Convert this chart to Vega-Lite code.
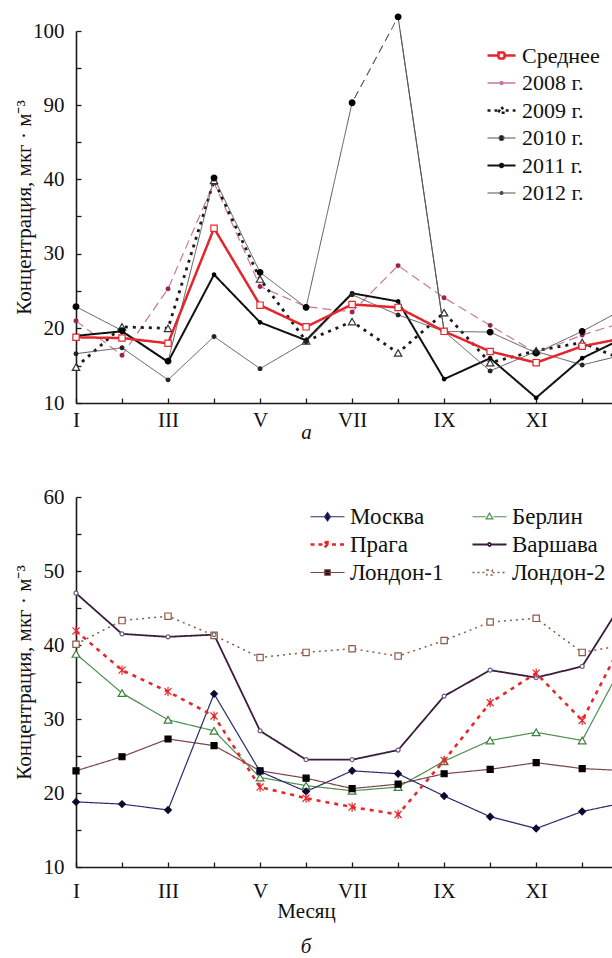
{
  "$schema": "https://vega.github.io/schema/vega-lite/v6.json",
  "autosize": {"type": "pad"},
  "padding": {"left": 13, "top": 11, "right": 0, "bottom": 0},
  "background": "white",
  "datasets": {
    "top": [
      {"series": "2008 г.", "month": 1, "value": 21.0}, {"series": "2008 г.", "month": 2, "value": 16.4}, {"series": "2008 г.", "month": 3, "value": 25.3}, {"series": "2008 г.", "month": 4, "value": 39.5}, {"series": "2008 г.", "month": 5, "value": 25.6}, {"series": "2008 г.", "month": 6, "value": 22.9}, {"series": "2008 г.", "month": 7, "value": 22.2}, {"series": "2008 г.", "month": 8, "value": 28.4}, {"series": "2008 г.", "month": 9, "value": 24.1}, {"series": "2008 г.", "month": 10, "value": 20.4}, {"series": "2008 г.", "month": 11, "value": 16.7}, {"series": "2008 г.", "month": 12, "value": 19.1}, {"series": "2008 г.", "month": 13, "value": 21.0},
      {"series": "2009 г.", "month": 1, "value": 14.8}, {"series": "2009 г.", "month": 2, "value": 20.2}, {"series": "2009 г.", "month": 3, "value": 20.0}, {"series": "2009 г.", "month": 4, "value": 39.8}, {"series": "2009 г.", "month": 5, "value": 26.6}, {"series": "2009 г.", "month": 6, "value": 18.3}, {"series": "2009 г.", "month": 7, "value": 20.9}, {"series": "2009 г.", "month": 8, "value": 16.7}, {"series": "2009 г.", "month": 9, "value": 22.1}, {"series": "2009 г.", "month": 10, "value": 15.4}, {"series": "2009 г.", "month": 11, "value": 17.0}, {"series": "2009 г.", "month": 12, "value": 18.1}, {"series": "2009 г.", "month": 13, "value": 15.5},
      {"series": "2010 г.", "month": 1, "value": 22.9}, {"series": "2010 г.", "month": 2, "value": 19.7}, {"series": "2010 г.", "month": 3, "value": 15.6}, {"series": "2010 г.", "month": 4, "value": 40.7}, {"series": "2010 г.", "month": 5, "value": 27.5}, {"series": "2010 г.", "month": 6, "value": 22.8}, {"series": "2010 г.", "month": 7, "value": 90.3}, {"series": "2010 г.", "month": 8, "value": 101.9}, {"series": "2010 г.", "month": 9, "value": 19.6}, {"series": "2010 г.", "month": 10, "value": 19.5}, {"series": "2010 г.", "month": 11, "value": 16.7}, {"series": "2010 г.", "month": 12, "value": 19.6}, {"series": "2010 г.", "month": 13, "value": 22.9},
      {"series": "2011 г.", "month": 1, "value": 19.0}, {"series": "2011 г.", "month": 2, "value": 19.6}, {"series": "2011 г.", "month": 3, "value": 15.5}, {"series": "2011 г.", "month": 4, "value": 27.2}, {"series": "2011 г.", "month": 5, "value": 20.8}, {"series": "2011 г.", "month": 6, "value": 18.4}, {"series": "2011 г.", "month": 7, "value": 24.7}, {"series": "2011 г.", "month": 8, "value": 23.6}, {"series": "2011 г.", "month": 9, "value": 13.2}, {"series": "2011 г.", "month": 10, "value": 16.0}, {"series": "2011 г.", "month": 11, "value": 10.7}, {"series": "2011 г.", "month": 12, "value": 16.0}, {"series": "2011 г.", "month": 13, "value": 19.0},
      {"series": "2012 г.", "month": 1, "value": 16.6}, {"series": "2012 г.", "month": 2, "value": 17.4}, {"series": "2012 г.", "month": 3, "value": 13.1}, {"series": "2012 г.", "month": 4, "value": 18.9}, {"series": "2012 г.", "month": 5, "value": 14.6}, {"series": "2012 г.", "month": 6, "value": 18.2}, {"series": "2012 г.", "month": 7, "value": 24.5}, {"series": "2012 г.", "month": 8, "value": 21.8}, {"series": "2012 г.", "month": 9, "value": 19.6}, {"series": "2012 г.", "month": 10, "value": 14.3}, {"series": "2012 г.", "month": 11, "value": 16.9}, {"series": "2012 г.", "month": 12, "value": 15.1}, {"series": "2012 г.", "month": 13, "value": 16.6},
      {"series": "Среднее", "month": 1, "value": 18.8}, {"series": "Среднее", "month": 2, "value": 18.7}, {"series": "Среднее", "month": 3, "value": 18.0}, {"series": "Среднее", "month": 4, "value": 33.4}, {"series": "Среднее", "month": 5, "value": 23.1}, {"series": "Среднее", "month": 6, "value": 20.2}, {"series": "Среднее", "month": 7, "value": 23.2}, {"series": "Среднее", "month": 8, "value": 22.8}, {"series": "Среднее", "month": 9, "value": 19.6}, {"series": "Среднее", "month": 10, "value": 16.9}, {"series": "Среднее", "month": 11, "value": 15.4}, {"series": "Среднее", "month": 12, "value": 17.6}, {"series": "Среднее", "month": 13, "value": 18.8}
    ],
    "bottom": [
      {"series": "Лондон-2", "month": 1, "value": 40.1}, {"series": "Лондон-2", "month": 2, "value": 43.3}, {"series": "Лондон-2", "month": 3, "value": 43.9}, {"series": "Лондон-2", "month": 4, "value": 41.3}, {"series": "Лондон-2", "month": 5, "value": 38.3}, {"series": "Лондон-2", "month": 6, "value": 39.0}, {"series": "Лондон-2", "month": 7, "value": 39.5}, {"series": "Лондон-2", "month": 8, "value": 38.5}, {"series": "Лондон-2", "month": 9, "value": 40.6}, {"series": "Лондон-2", "month": 10, "value": 43.1}, {"series": "Лондон-2", "month": 11, "value": 43.6}, {"series": "Лондон-2", "month": 12, "value": 39.0}, {"series": "Лондон-2", "month": 13, "value": 40.1},
      {"series": "Варшава", "month": 1, "value": 47.0}, {"series": "Варшава", "month": 2, "value": 41.5}, {"series": "Варшава", "month": 3, "value": 41.1}, {"series": "Варшава", "month": 4, "value": 41.4}, {"series": "Варшава", "month": 5, "value": 28.4}, {"series": "Варшава", "month": 6, "value": 24.5}, {"series": "Варшава", "month": 7, "value": 24.5}, {"series": "Варшава", "month": 8, "value": 25.8}, {"series": "Варшава", "month": 9, "value": 33.1}, {"series": "Варшава", "month": 10, "value": 36.6}, {"series": "Варшава", "month": 11, "value": 35.6}, {"series": "Варшава", "month": 12, "value": 37.1}, {"series": "Варшава", "month": 13, "value": 47.0},
      {"series": "Берлин", "month": 1, "value": 38.8}, {"series": "Берлин", "month": 2, "value": 33.5}, {"series": "Берлин", "month": 3, "value": 29.9}, {"series": "Берлин", "month": 4, "value": 28.4}, {"series": "Берлин", "month": 5, "value": 22.1}, {"series": "Берлин", "month": 6, "value": 21.0}, {"series": "Берлин", "month": 7, "value": 20.3}, {"series": "Берлин", "month": 8, "value": 20.8}, {"series": "Берлин", "month": 9, "value": 24.3}, {"series": "Берлин", "month": 10, "value": 27.1}, {"series": "Берлин", "month": 11, "value": 28.2}, {"series": "Берлин", "month": 12, "value": 27.1}, {"series": "Берлин", "month": 13, "value": 38.8},
      {"series": "Лондон-1", "month": 1, "value": 23.0}, {"series": "Лондон-1", "month": 2, "value": 24.9}, {"series": "Лондон-1", "month": 3, "value": 27.3}, {"series": "Лондон-1", "month": 4, "value": 26.4}, {"series": "Лондон-1", "month": 5, "value": 23.0}, {"series": "Лондон-1", "month": 6, "value": 22.0}, {"series": "Лондон-1", "month": 7, "value": 20.6}, {"series": "Лондон-1", "month": 8, "value": 21.2}, {"series": "Лондон-1", "month": 9, "value": 22.6}, {"series": "Лондон-1", "month": 10, "value": 23.2}, {"series": "Лондон-1", "month": 11, "value": 24.1}, {"series": "Лондон-1", "month": 12, "value": 23.3}, {"series": "Лондон-1", "month": 13, "value": 23.0},
      {"series": "Москва", "month": 1, "value": 18.8}, {"series": "Москва", "month": 2, "value": 18.5}, {"series": "Москва", "month": 3, "value": 17.7}, {"series": "Москва", "month": 4, "value": 33.4}, {"series": "Москва", "month": 5, "value": 22.9}, {"series": "Москва", "month": 6, "value": 20.2}, {"series": "Москва", "month": 7, "value": 23.0}, {"series": "Москва", "month": 8, "value": 22.6}, {"series": "Москва", "month": 9, "value": 19.6}, {"series": "Москва", "month": 10, "value": 16.8}, {"series": "Москва", "month": 11, "value": 15.2}, {"series": "Москва", "month": 12, "value": 17.5}, {"series": "Москва", "month": 13, "value": 18.8},
      {"series": "Прага", "month": 1, "value": 41.9}, {"series": "Прага", "month": 2, "value": 36.6}, {"series": "Прага", "month": 3, "value": 33.7}, {"series": "Прага", "month": 4, "value": 30.4}, {"series": "Прага", "month": 5, "value": 20.8}, {"series": "Прага", "month": 6, "value": 19.3}, {"series": "Прага", "month": 7, "value": 18.1}, {"series": "Прага", "month": 8, "value": 17.1}, {"series": "Прага", "month": 9, "value": 24.4}, {"series": "Прага", "month": 10, "value": 32.2}, {"series": "Прага", "month": 11, "value": 36.2}, {"series": "Прага", "month": 12, "value": 29.8}, {"series": "Прага", "month": 13, "value": 41.9}
    ]
  },
  "spacing": 94,
  "bounds": "flush",
  "vconcat": [
    {
      "width": 537,
      "height": 372,
      "data": {"name": "top"},
      "encoding": {
        "x": {
          "field": "month", "type": "quantitative",
          "scale": {"domain": [1, 12.67], "nice": false, "zero": false},
          "axis": {
            "values": [1, 2, 3, 4, 5, 6, 7, 8, 9, 10, 11, 12],
            "labelExpr": "datum.value % 2 == 1 ? ['I','II','III','IV','V','VI','VII','VIII','IX','X','XI','XII'][datum.value - 1] : ''",
            "labelFlush": false, "labelOverlap": false, "labelPadding": 11,
            "title": "а", "titleFontStyle": "italic", "titleX": 230, "titleY": 29,
            "titleBaseline": "middle", "titleAlign": "center"
          }
        },
        "y": {
          "field": "value", "type": "quantitative",
          "scale": {"domain": [10, 40, 90, 100], "range": [372, 148, 74, 0], "nice": false, "zero": false},
          "axis": {
            "values": [10, 15, 20, 25, 30, 35, 40, 65, 90, 95, 100],
            "labelExpr": "indexof([10, 20, 30, 40, 90, 100], datum.value) >= 0 ? datum.label : ''",
            "labelOverlap": false, "labelPadding": 17,
            "title": "Концентрация, мкг · м⁻³", "titleX": -52, "titleY": 176, "titleAngle": -90,
            "titleBaseline": "middle", "titleAlign": "center"
          }
        }
      },
      "resolve": {"scale": {"color": "independent", "shape": "independent", "fill": "independent", "stroke": "independent", "size": "independent", "strokeDash": "independent", "strokeWidth": "independent"}},
      "layer": [
        {
          "mark": {"type": "line", "clip": true},
          "encoding": {
            "color": {"field": "series", "type": "nominal", "legend": null,
              "scale": {"domain": ["2008 г.", "2009 г.", "2010 г.", "2011 г.", "2012 г.", "Среднее"], "range": ["#c9789a", "#1a1a1a", "#555555", "#111111", "#555555", "#e3262b"]}},
            "strokeDash": {"field": "series", "type": "nominal", "legend": null,
              "scale": {"domain": ["2008 г.", "2009 г.", "2010 г.", "2011 г.", "2012 г.", "Среднее"], "range": [[9, 5], [3, 5], [1, 0], [1, 0], [1, 0], [1, 0]]}},
            "strokeWidth": {"field": "series", "type": "nominal", "legend": null,
              "scale": {"type": "ordinal", "domain": ["2008 г.", "2009 г.", "2010 г.", "2011 г.", "2012 г.", "Среднее"], "range": [1.2, 2.8, 1, 2, 1, 2.5]}}
          }
        },
        {
          "transform": [{"filter": "datum.series == '2010 г.' && datum.month >= 7 && datum.month <= 9"}],
          "mark": {"type": "line", "color": "#555555", "strokeWidth": 1, "clip": false},
          "encoding": {}
        },
        {
          "transform": [{"filter": "datum.series == '2010 г.' && datum.month >= 7 && datum.month <= 8"}],
          "mark": {"type": "line", "color": "white", "strokeWidth": 2.5, "strokeDash": [5, 8], "clip": false},
          "encoding": {}
        },
        {
          "transform": [{"filter": "datum.month <= 12"}],
          "mark": {"type": "point", "filled": true, "opacity": 1, "strokeWidth": 1.2},
          "encoding": {
            "shape": {"field": "series", "type": "nominal", "legend": null,
              "scale": {"domain": ["2008 г.", "2009 г.", "2010 г.", "2011 г.", "2012 г.", "Среднее"], "range": ["circle", "triangle-up", "circle", "circle", "circle", "square"]}},
            "size": {"field": "series", "type": "nominal", "legend": null,
              "scale": {"type": "ordinal", "domain": ["2008 г.", "2009 г.", "2010 г.", "2011 г.", "2012 г.", "Среднее"], "range": [14, 55, 32, 12, 14, 40]}},
            "fill": {"field": "series", "type": "nominal", "legend": null,
              "scale": {"domain": ["2008 г.", "2009 г.", "2010 г.", "2011 г.", "2012 г.", "Среднее"], "range": ["#9a2050", "#ffffff", "#000000", "#000000", "#222222", "#ffffff"]}},
            "stroke": {"field": "series", "type": "nominal", "legend": null,
              "scale": {"domain": ["2008 г.", "2009 г.", "2010 г.", "2011 г.", "2012 г.", "Среднее"], "range": ["#9a2050", "#333333", "#000000", "#000000", "#222222", "#e3262b"]}}
          }
        },
        {
          "transform": [{"filter": "datum.month == 1"}],
          "mark": {"type": "point", "filled": true, "opacity": 0},
          "encoding": {
            "shape": {"field": "series", "type": "nominal",
              "scale": {"domain": ["Среднее", "2008 г.", "2009 г.", "2010 г.", "2011 г.", "2012 г."],
                "range": ["M-1.4,0H-0.32M0.32,0H1.4M-0.3,-0.3H0.3V0.3H-0.3Z", "M-1.4,0H1.4M-0.15,0A0.15,0.15 0 1,0 0.15,0A0.15,0.15 0 1,0 -0.15,0Z", "M-1.4,0H-0.42M0.42,0H1.4M0,-0.36L0.34,0.22H-0.34Z", "M-1.4,0H1.4M-0.25,0A0.25,0.25 0 1,0 0.25,0A0.25,0.25 0 1,0 -0.25,0Z", "M-1.4,0H1.4M-0.17,0A0.17,0.17 0 1,0 0.17,0A0.17,0.17 0 1,0 -0.17,0Z", "M-1.4,0H1.4M-0.15,0A0.15,0.15 0 1,0 0.15,0A0.15,0.15 0 1,0 -0.15,0Z"]},
              "legend": {"orient": "none", "legendX": 414, "legendY": 13, "title": null, "padding": 0, "symbolSize": 400, "labelOffset": 9, "rowPadding": 5, "symbolOpacity": 1, "labelFont": "Liberation Serif", "labelFontSize": 22, "labelColor": "#111111"}},
            "fill": {"field": "series", "type": "nominal",
              "scale": {"domain": ["Среднее", "2008 г.", "2009 г.", "2010 г.", "2011 г.", "2012 г."], "range": ["#ffffff", "#9a2050", "#ffffff", "#000000", "#000000", "#222222"]},
              "legend": {"orient": "none", "legendX": 414, "legendY": 13, "title": null, "padding": 0, "symbolSize": 400, "labelOffset": 9, "rowPadding": 5, "symbolOpacity": 1, "labelFont": "Liberation Serif", "labelFontSize": 22, "labelColor": "#111111"}},
            "stroke": {"field": "series", "type": "nominal",
              "scale": {"domain": ["Среднее", "2008 г.", "2009 г.", "2010 г.", "2011 г.", "2012 г."], "range": ["#e3262b", "#c9789a", "#1a1a1a", "#555555", "#111111", "#555555"]},
              "legend": {"orient": "none", "legendX": 414, "legendY": 13, "title": null, "padding": 0, "symbolSize": 400, "labelOffset": 9, "rowPadding": 5, "symbolOpacity": 1, "labelFont": "Liberation Serif", "labelFontSize": 22, "labelColor": "#111111"}},
            "strokeDash": {"field": "series", "type": "nominal",
              "scale": {"domain": ["Среднее", "2008 г.", "2009 г.", "2010 г.", "2011 г.", "2012 г."], "range": [[1, 0], [1, 0], [3, 4], [1, 0], [1, 0], [1, 0]]},
              "legend": {"orient": "none", "legendX": 414, "legendY": 13, "title": null, "padding": 0, "symbolSize": 400, "labelOffset": 9, "rowPadding": 5, "symbolOpacity": 1, "labelFont": "Liberation Serif", "labelFontSize": 22, "labelColor": "#111111"}},
            "strokeWidth": {"field": "series", "type": "nominal",
              "scale": {"type": "ordinal", "domain": ["Среднее", "2008 г.", "2009 г.", "2010 г.", "2011 г.", "2012 г."], "range": [2.5, 1.3, 2.5, 1.2, 2.2, 1.2]},
              "legend": {"orient": "none", "legendX": 414, "legendY": 13, "title": null, "padding": 0, "symbolSize": 400, "labelOffset": 9, "rowPadding": 5, "symbolOpacity": 1, "labelFont": "Liberation Serif", "labelFontSize": 22, "labelColor": "#111111"}}
          }
        }
      ]
    },
    {
      "width": 537,
      "height": 370,
      "data": {"name": "bottom"},
      "title": {"text": "б", "orient": "bottom", "anchor": "start", "align": "center", "dx": 230, "offset": 15, "frame": "group",
        "font": "Liberation Serif", "fontSize": 21, "fontStyle": "italic", "fontWeight": "normal", "color": "#111111"},
      "encoding": {
        "x": {
          "field": "month", "type": "quantitative",
          "scale": {"domain": [1, 12.67], "nice": false, "zero": false},
          "axis": {
            "values": [1, 2, 3, 4, 5, 6, 7, 8, 9, 10, 11, 12],
            "labelExpr": "datum.value % 2 == 1 ? ['I','II','III','IV','V','VI','VII','VIII','IX','X','XI','XII'][datum.value - 1] : ''",
            "labelFlush": false, "labelOverlap": false, "labelPadding": 18,
            "title": "Месяц", "titleX": 230, "titleY": 44,
            "titleBaseline": "middle", "titleAlign": "center"
          }
        },
        "y": {
          "field": "value", "type": "quantitative",
          "scale": {"domain": [10, 60], "nice": false, "zero": false},
          "axis": {
            "values": [10, 15, 20, 25, 30, 35, 40, 45, 50, 55, 60],
            "labelExpr": "datum.value % 10 == 0 ? datum.label : ''",
            "labelOverlap": false, "labelPadding": 17,
            "title": "Концентрация, мкг · м⁻³", "titleX": -52, "titleY": 175, "titleAngle": -90,
            "titleBaseline": "middle", "titleAlign": "center"
          }
        }
      },
      "resolve": {"scale": {"color": "independent", "shape": "independent", "fill": "independent", "stroke": "independent", "size": "independent", "strokeDash": "independent", "strokeWidth": "independent"}},
      "layer": [
        {
          "mark": {"type": "line", "clip": true},
          "encoding": {
            "color": {"field": "series", "type": "nominal", "legend": null,
              "scale": {"domain": ["Лондон-2", "Варшава", "Берлин", "Лондон-1", "Москва", "Прага"], "range": ["#8a5a48", "#3a1c3c", "#4f8f4f", "#7a4545", "#2a2a70", "#e8262b"]}},
            "strokeDash": {"field": "series", "type": "nominal", "legend": null,
              "scale": {"domain": ["Лондон-2", "Варшава", "Берлин", "Лондон-1", "Москва", "Прага"], "range": [[2, 4], [1, 0], [1, 0], [1, 0], [1, 0], [4, 5]]}},
            "strokeWidth": {"field": "series", "type": "nominal", "legend": null,
              "scale": {"type": "ordinal", "domain": ["Лондон-2", "Варшава", "Берлин", "Лондон-1", "Москва", "Прага"], "range": [1.5, 1.8, 1.2, 1.2, 1.2, 2.6]}}
          }
        },
        {
          "transform": [{"filter": "datum.month <= 12"}],
          "mark": {"type": "point", "filled": true, "opacity": 1, "strokeWidth": 1.2},
          "encoding": {
            "shape": {"field": "series", "type": "nominal", "legend": null,
              "scale": {"domain": ["Лондон-2", "Варшава", "Берлин", "Лондон-1", "Москва", "Прага"], "range": ["square", "circle", "triangle-up", "square", "diamond", "M-1,-1L1,1M-1,1L1,-1M0,-1.3V1.3"]}},
            "size": {"field": "series", "type": "nominal", "legend": null,
              "scale": {"type": "ordinal", "domain": ["Лондон-2", "Варшава", "Берлин", "Лондон-1", "Москва", "Прага"], "range": [40, 16, 60, 36, 45, 50]}},
            "fill": {"field": "series", "type": "nominal", "legend": null,
              "scale": {"domain": ["Лондон-2", "Варшава", "Берлин", "Лондон-1", "Москва", "Прага"], "range": ["#ffffff", "#ffffff", "#ffffff", "#000000", "#0a0a30", "transparent"]}},
            "stroke": {"field": "series", "type": "nominal", "legend": null,
              "scale": {"domain": ["Лондон-2", "Варшава", "Берлин", "Лондон-1", "Москва", "Прага"], "range": ["#8a5a48", "#6a5a80", "#3f7f3f", "#000000", "#0a0a30", "#e8262b"]}}
          }
        },
        {
          "transform": [{"filter": "datum.month == 1"}],
          "mark": {"type": "point", "filled": true, "opacity": 0},
          "encoding": {
            "shape": {"field": "series", "type": "nominal",
              "scale": {"domain": ["Москва", "Прага", "Лондон-1", "Берлин", "Варшава", "Лондон-2"],
                "range": ["M-1.7,0H1.7M0,-0.42L0.3,0L0,0.42L-0.3,0Z", "M-1.7,0H-0.45M0.45,0H1.7M-0.28,-0.28L0.28,0.28M-0.28,0.28L0.28,-0.28M0,-0.38V0.38", "M-1.7,0H1.7M-0.27,-0.27H0.27V0.27H-0.27Z", "M-1.7,0H-0.4M0.4,0H1.7M0,-0.36L0.34,0.22H-0.34Z", "M-1.7,0H-0.18M0.18,0H1.7M-0.15,0A0.15,0.15 0 1,0 0.15,0A0.15,0.15 0 1,0 -0.15,0Z", "M-1.7,0H-0.3M0.3,0H1.7M-0.26,-0.26H0.26V0.26H-0.26Z"]},
              "legend": {"orient": "none", "legendX": 240, "legendY": 8, "title": null, "padding": 0, "columns": 2, "columnPadding": 24, "symbolSize": 400, "labelOffset": 11, "rowPadding": 4, "symbolOpacity": 1, "labelFont": "Liberation Serif", "labelFontSize": 23, "labelColor": "#111111"}},
            "fill": {"field": "series", "type": "nominal",
              "scale": {"domain": ["Москва", "Прага", "Лондон-1", "Берлин", "Варшава", "Лондон-2"], "range": ["#0a0a30", "transparent", "#000000", "#ffffff", "#ffffff", "#ffffff"]},
              "legend": {"orient": "none", "legendX": 240, "legendY": 8, "title": null, "padding": 0, "columns": 2, "columnPadding": 24, "symbolSize": 400, "labelOffset": 11, "rowPadding": 4, "symbolOpacity": 1, "labelFont": "Liberation Serif", "labelFontSize": 23, "labelColor": "#111111"}},
            "stroke": {"field": "series", "type": "nominal",
              "scale": {"domain": ["Москва", "Прага", "Лондон-1", "Берлин", "Варшава", "Лондон-2"], "range": ["#2a2a70", "#e8262b", "#7a4545", "#4f8f4f", "#3a1c3c", "#8a5a48"]},
              "legend": {"orient": "none", "legendX": 240, "legendY": 8, "title": null, "padding": 0, "columns": 2, "columnPadding": 24, "symbolSize": 400, "labelOffset": 11, "rowPadding": 4, "symbolOpacity": 1, "labelFont": "Liberation Serif", "labelFontSize": 23, "labelColor": "#111111"}},
            "strokeDash": {"field": "series", "type": "nominal",
              "scale": {"domain": ["Москва", "Прага", "Лондон-1", "Берлин", "Варшава", "Лондон-2"], "range": [[1, 0], [4, 4], [1, 0], [1, 0], [1, 0], [2, 3]]},
              "legend": {"orient": "none", "legendX": 240, "legendY": 8, "title": null, "padding": 0, "columns": 2, "columnPadding": 24, "symbolSize": 400, "labelOffset": 11, "rowPadding": 4, "symbolOpacity": 1, "labelFont": "Liberation Serif", "labelFontSize": 23, "labelColor": "#111111"}},
            "strokeWidth": {"field": "series", "type": "nominal",
              "scale": {"type": "ordinal", "domain": ["Москва", "Прага", "Лондон-1", "Берлин", "Варшава", "Лондон-2"], "range": [1.2, 2.5, 1.2, 1.2, 1.8, 1.5]},
              "legend": {"orient": "none", "legendX": 240, "legendY": 8, "title": null, "padding": 0, "columns": 2, "columnPadding": 24, "symbolSize": 400, "labelOffset": 11, "rowPadding": 4, "symbolOpacity": 1, "labelFont": "Liberation Serif", "labelFontSize": 23, "labelColor": "#111111"}}
          }
        }
      ]
    }
  ],
  "resolve": {
    "scale": {"x": "independent", "y": "independent", "color": "independent", "shape": "independent", "fill": "independent", "stroke": "independent", "size": "independent", "strokeDash": "independent", "strokeWidth": "independent"},
    "legend": {"shape": "independent", "color": "independent", "fill": "independent", "stroke": "independent", "size": "independent", "strokeDash": "independent", "strokeWidth": "independent"}
  },
  "config": {
    "view": {"stroke": null},
    "font": "Liberation Serif",
    "style": {"guide-label": {"font": "Liberation Serif"}, "guide-title": {"font": "Liberation Serif"}},
    "axis": {
      "grid": false, "domainColor": "#1a1a1a", "domainWidth": 1.6, "tickColor": "#1a1a1a", "tickWidth": 1.3, "tickSize": -5,
      "labelFont": "Liberation Serif", "labelFontSize": 21, "labelColor": "#111111",
      "titleFont": "Liberation Serif", "titleFontSize": 21, "titleFontWeight": "normal", "titleColor": "#111111"
    },
    "legend": {"labelFont": "Liberation Serif", "labelFontSize": 22, "labelColor": "#111111"}
  }
}
